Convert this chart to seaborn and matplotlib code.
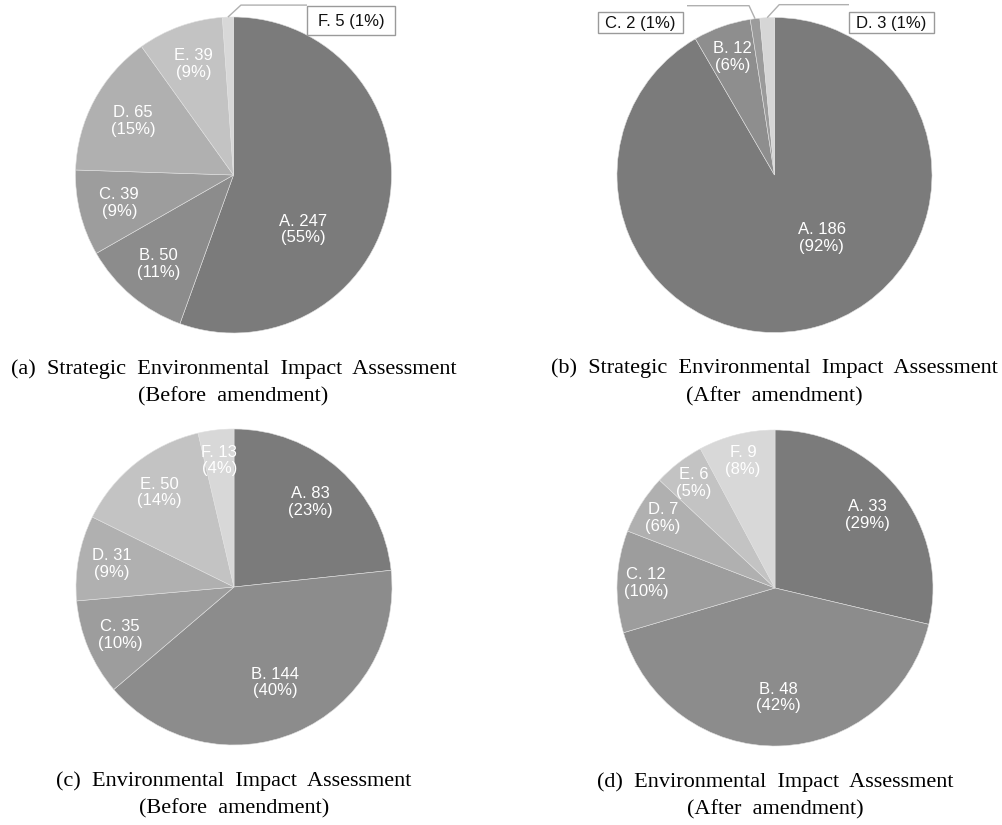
import numpy as np
import matplotlib
matplotlib.use("Agg")
import matplotlib.pyplot as plt
import seaborn as sns
from matplotlib.patches import Rectangle

# ---------------- data ----------------
cats_a = ["A", "B", "C", "D", "E", "F"]
vals_a = [247, 50, 39, 65, 39, 5]
pct_a = [55, 11, 9, 15, 9, 1]

cats_b = ["A", "B", "C", "D"]
vals_b = [186, 12, 2, 3]
pct_b = [92, 6, 1, 1]

cats_c = ["A", "B", "C", "D", "E", "F"]
vals_c = [83, 144, 35, 31, 50, 13]
pct_c = [23, 40, 10, 9, 14, 4]

cats_d = ["A", "B", "C", "D", "E", "F"]
vals_d = [33, 48, 12, 7, 6, 9]
pct_d = [29, 42, 10, 6, 5, 8]

captions_1 = ["(a)  Strategic  Environmental  Impact  Assessment",
              "(b)  Strategic  Environmental  Impact  Assessment",
              "(c)  Environmental  Impact  Assessment",
              "(d)  Environmental  Impact  Assessment"]
captions_2 = ["(Before  amendment)", "(After  amendment)",
              "(Before  amendment)", "(After  amendment)"]

# ---------------- style / layout ----------------
sns.set_theme(style="white")
plt.rcParams["font.family"] = ["Liberation Sans", "DejaVu Sans"]

W, H = 1003, 825
fig = plt.figure(figsize=(W / 100, H / 100), dpi=100)

pal6 = sns.color_palette(["#7b7b7b", "#8c8c8c", "#9d9d9d", "#b0b0b0", "#c3c3c3", "#d8d8d8"])
pal4 = sns.color_palette(["#7b7b7b", "#8e8e8e", "#9b9b9b", "#d6d6d6"])

pies = [
    dict(cats=cats_a, vals=vals_a, pct=pct_a, pal=pal6, c=(233.5, 175), r=158, base=0.78,
         override={"A": (-38, 0.56)},
         boxed={"F": dict(box=(307, 6, 88, 29), elbow=(13, -12), side="left")}),
    dict(cats=cats_b, vals=vals_b, pct=pct_b, pal=pal4, c=(774.5, 175), r=157.5, base=0.82,
         override={"A": (-53, 0.50)},
         boxed={"C": dict(box=(598, 12, 85, 21), elbow=(-6, -13), side="right"),
                "D": dict(box=(849, 12, 85, 21), elbow=(12, -13), side="left")}),
    dict(cats=cats_c, vals=vals_c, pct=pct_c, pal=pal6, c=(234, 587), r=158, base=0.82,
         override={}, boxed={}),
    dict(cats=cats_d, vals=vals_d, pct=pct_d, pal=pal6, c=(775, 588), r=158, base=0.86,
         override={}, boxed={}),
]

# overlay in pixel coordinates for captions, callout boxes and leaders
ov = fig.add_axes([0, 0, 1, 1], zorder=5)
ov.set_xlim(0, W)
ov.set_ylim(H, 0)
ov.axis("off")
ov.patch.set_alpha(0)

for i, p in enumerate(pies):
    cx, cy = p["c"]
    r = p["r"]
    ax = fig.add_axes([(cx - r) / W, (H - cy - r) / H, 2 * r / W, 2 * r / H])
    wedges, _ = ax.pie(p["vals"], colors=p["pal"], startangle=90, counterclock=False,
                       radius=1.0,
                       wedgeprops=dict(edgecolor="#e0e0e0", linewidth=0.4))
    ax.set_xlim(-1, 1)
    ax.set_ylim(-1, 1)
    ax.set_aspect("auto")
    ax.axis("off")
    total = sum(p["vals"])
    for w, cat, v, pc in zip(wedges, p["cats"], p["vals"], p["pct"]):
        mid = np.deg2rad((w.theta1 + w.theta2) / 2)
        frac = v / total
        if cat in p["boxed"]:
            b = p["boxed"][cat]
            ex, ey = cx + r * np.cos(mid), cy - r * np.sin(mid)
            elx, ely = ex + b["elbow"][0], ey + b["elbow"][1]
            bl, bt, bw, bh = b["box"]
            endx = bl if b["side"] == "left" else bl + bw + 4
            ov.plot([ex, elx, endx], [ey, ely, ely], color="#b0b0b0", lw=1.0,
                    solid_capstyle="butt")
            ov.add_patch(Rectangle((bl, bt), bw, bh, facecolor="white",
                                   edgecolor="#9a9a9a", lw=1.0))
            ov.text(bl + bw / 2, bt + bh / 2 + 1, f"{cat}. {v} ({pc}%)", ha="center",
                    va="center", fontsize=12, color="#111111")
            continue
        if cat in p["override"]:
            ang, d = p["override"][cat]
            ang = np.deg2rad(ang)
        else:
            ang, d = mid, p["base"] - 0.4 * frac
        ax.text(d * np.cos(ang), d * np.sin(ang), f"{cat}. {v}\n({pc}%)",
                ha="center", va="center", fontsize=12, color="white",
                linespacing=1.15)
    ov.text(cx, cy + r + 36, captions_1[i], ha="center", va="center",
            fontsize=16, family=["Liberation Serif", "DejaVu Serif"], color="black")
    ov.text(cx, cy + r + 64, captions_2[i], ha="center", va="center",
            fontsize=16, family=["Liberation Serif", "DejaVu Serif"], color="black")

fig.savefig("out.png", dpi=100, facecolor="white")
